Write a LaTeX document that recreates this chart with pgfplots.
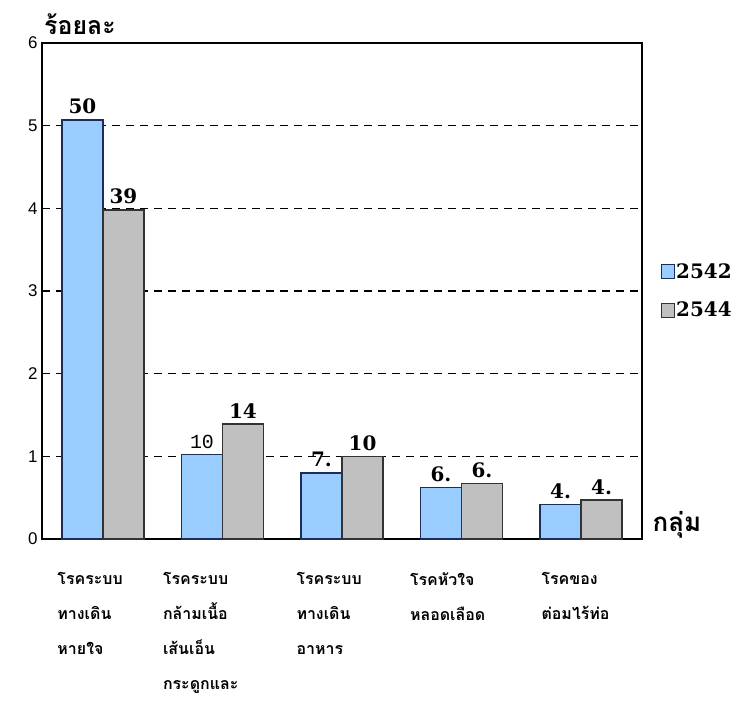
\documentclass[border=0pt]{standalone}
\usepackage{pgfplots}
\pgfplotsset{compat=1.18}
\usepackage{fontspec}
\setmainfont{Liberation Sans}
\newfontfamily\thaifont[Script=Thai]{Loma}
\newfontfamily\numfont{DejaVu Serif}
\newfontfamily\monofont{Liberation Mono}
\protected\def\lite{\monofont\mdseries}
\definecolor{barblue}{HTML}{99CCFF}
\definecolor{bluedge}{HTML}{1A2E5A}
\definecolor{bargray}{HTML}{C0C0C0}
\begin{document}
\begin{tikzpicture}
\useasboundingbox (0,0) rectangle (752bp,707bp);
\begin{axis}[
  at={(42bp,168bp)}, anchor=south west,
  scale only axis, width=600bp, height=496bp,
  ybar=0pt, bar width=41bp,
  xmin=-0.51, xmax=4.51, ymin=0, ymax=6,
  ytick={0,1,2,3,4,5,6}, xtick={0,1,2,3,4},
  xticklabels={{โรคระบบ\\ทางเดิน\\หายใจ},{\hspace*{-14bp}โรคระบบ\\\hspace*{-14bp}กล้ามเนื้อ\\\hspace*{-14bp}เส้นเอ็น\\\hspace*{-14bp}กระดูกและ},{โรคระบบ\\ทางเดิน\\อาหาร},{\hspace*{-6bp}โรคหัวใจ\\\hspace*{-6bp}หลอดเลือด},{\hspace*{6bp}โรคของ\\\hspace*{6bp}ต่อมไร้ท่อ}},
  xticklabel style={font=\thaifont\bfseries\fontsize{16}{35}\selectfont, align=left, anchor=north west, xshift=-49bp, yshift=-30bp},
  yticklabel style={font=\fontsize{17}{17}\selectfont, xshift=-1bp},
  /pgf/number format/assume math mode=true,
  major tick length=0pt,
  axis line style={black, line width=1.4bp},
  ymajorgrids,
  grid style={black, line width=1.5bp, dash pattern=on 8bp off 6bp},
  point meta=explicit symbolic,
  nodes near coords={\pgfplotspointmeta},
  nodes near coords style={font=\numfont\bfseries\fontsize{20}{20}\selectfont, inner sep=1bp, anchor=south, yshift=4bp},
  legend image code/.code={\draw[#1, line width=1bp] (0bp,-7bp) rectangle (13bp,7bp);},
  legend style={at={(1,0.5)}, anchor=west, xshift=16bp, draw=none, fill=none,
    font=\numfont\bfseries\fontsize{20}{20}\selectfont, row sep=20bp,
    nodes={inner sep=1bp}, cells={anchor=west}},
  clip=false,
]
\addplot[fill=barblue, draw=bluedge, line width=1.5bp] coordinates {
  (0,5.07) [50]
  (1,1.02) [\lite 10]
  (2,0.80) [7.]
  (3,0.62) [6.]
  (4,0.42) [4.]
};
\addplot[fill=bargray, draw=black!80, line width=1.5bp] coordinates {
  (0,3.98) [39]
  (1,1.39) [14]
  (2,1.00) [10]
  (3,0.67) [6.]
  (4,0.47) [4.]
};
\legend{2542,2544}
\end{axis}
\node[font=\thaifont\bfseries\fontsize{25}{25}\selectfont] at (80bp,683bp) {ร้อยละ};
\node[font=\thaifont\bfseries\fontsize{26}{26}\selectfont] at (677bp,182bp) {กลุ่ม};
\end{tikzpicture}
\end{document}
